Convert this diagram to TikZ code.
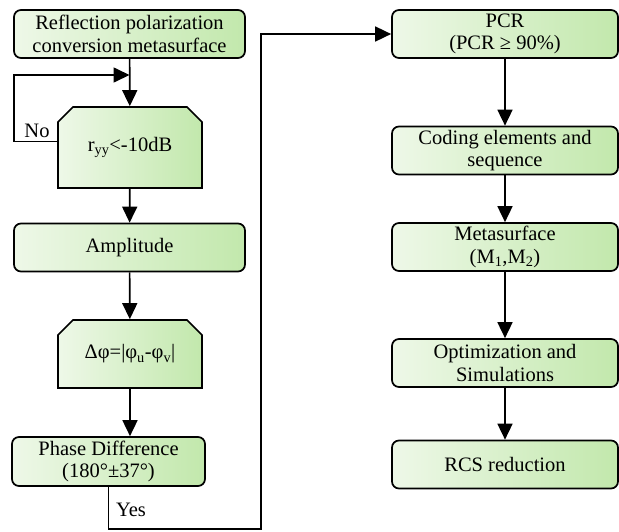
\documentclass[tikz,border=0pt]{standalone}
\usepackage{fontspec}
\setmainfont{Liberation Serif}
\usetikzlibrary{arrows.meta,positioning,shapes.misc}
\definecolor{boxlo}{RGB}{238,248,232}
\definecolor{boxhi}{RGB}{194,232,172}
\tikzset{
  rbox/.style={draw=black, line width=1.7pt, rounded corners=7pt, left color=boxlo, right color=boxhi,
    minimum width=231pt, minimum height=48pt, inner sep=0pt, align=center, font=\rmfamily\fontsize{20.5}{22.5}\selectfont},
  cbox/.style={draw=black, line width=1.7pt, chamfered rectangle, chamfered rectangle corners={north west,north east},
    chamfered rectangle xsep=7.5pt, chamfered rectangle ysep=7.5pt, left color=boxlo, right color=boxhi,
    minimum width=144pt, inner sep=0pt, align=center, font=\rmfamily\fontsize{20.5}{22.5}\selectfont},
  flow/.style={-{Triangle[length=16pt,width=15pt]}, line width=1.7pt},
  lbl/.style={font=\rmfamily\fontsize{20.5}{22.5}\selectfont},
}
\begin{document}
\begin{tikzpicture}[x=1pt,y=-1pt]
\useasboundingbox (0,0) rectangle (619,531);
% left column
\node[rbox] (refl) at (129.5,34) {Reflection polarization\\conversion metasurface};
\node[cbox, minimum height=81pt] (ryy) at (130,147.5) {r\textsubscript{yy}<-10dB};
\node[rbox] (ampl) at (129.5,247.5) {Amplitude};
\node[cbox, minimum height=68pt] (dphi) at (130,354) {Δφ=|φ\textsubscript{u}-φ\textsubscript{v}|};
\node[rbox, minimum width=193pt, minimum height=49pt] (phase) at (108.5,461.5) {Phase Difference\\(180°±37°)};
% right column
\node[rbox, minimum width=226pt] (pcr) at (505,34) {PCR\\(PCR ≥ 90\%)};
\node[rbox, minimum width=226pt] (code) at (505,150.5) {Coding elements and\\sequence};
\node[rbox, minimum width=226pt] (meta) at (505,247) {Metasurface\\(M\textsubscript{1},M\textsubscript{2})};
\node[rbox, minimum width=226pt] (optim) at (505,363) {Optimization and\\Simulations};
\node[rbox, minimum width=226pt] (rcs) at (505,464.5) {RCS reduction};
% connectors
\draw[flow] (refl) -- (ryy);
\draw[flow] (ryy) -- (ampl);
\draw[flow] (ampl) -- (dphi);
\draw[flow] (dphi.south) -- (dphi.south |- phase.north);
\coordinate (noturn) at (14,75);
\draw[flow] ([yshift=6pt]ryy.west) -| (noturn) -- (refl.south |- noturn);
\node[lbl] (nolab) at (37,131) {No};
\coordinate (yesturn) at (261,529);
\draw[flow] (phase.south) |- (yesturn) |- (pcr.west);
\node[lbl] (yeslab) at (131,510) {Yes};
\draw[flow] (pcr) -- (code);
\draw[flow] (code) -- (meta);
\draw[flow] (meta) -- (optim);
\draw[flow] (optim) -- (rcs);
\end{tikzpicture}
\end{document}
